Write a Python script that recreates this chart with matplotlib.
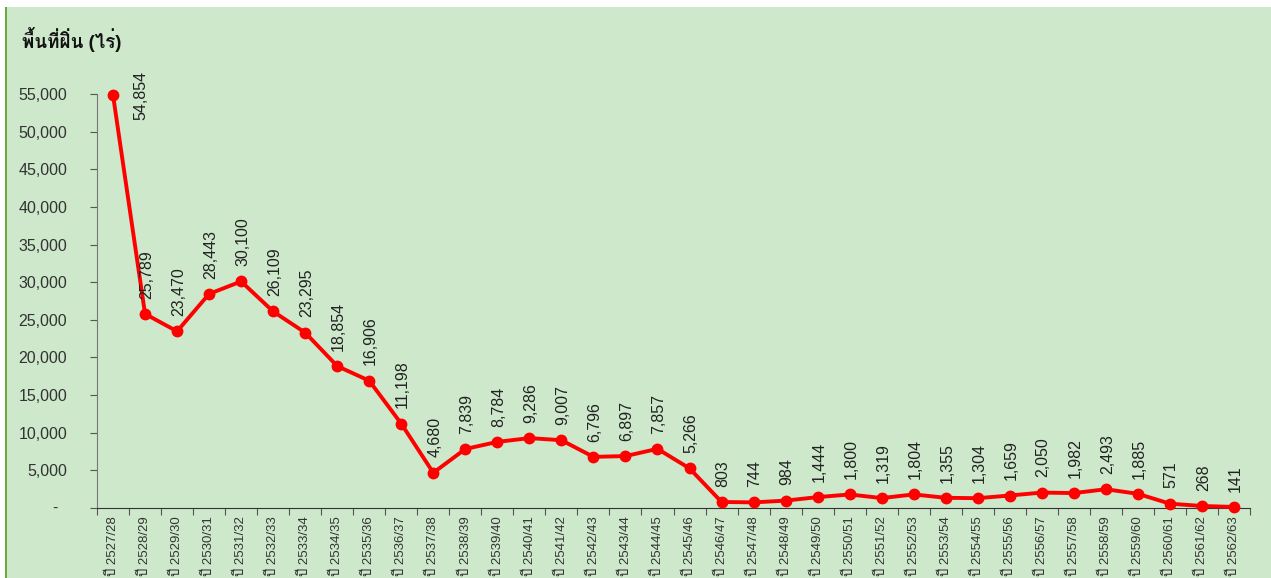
import matplotlib
matplotlib.use("Agg")
import matplotlib.pyplot as plt
import matplotlib.transforms as mtransforms
from matplotlib import font_manager
from matplotlib.ticker import FuncFormatter
from fontTools.ttLib import TTFont

# opium area per crop year
years = ["2527/28", "2528/29", "2529/30", "2530/31", "2531/32", "2532/33", "2533/34",
         "2534/35", "2535/36", "2536/37", "2537/38", "2538/39", "2539/40", "2540/41",
         "2541/42", "2542/43", "2543/44", "2544/45", "2545/46", "2546/47", "2547/48",
         "2548/49", "2549/50", "2550/51", "2551/52", "2552/53", "2553/54", "2554/55",
         "2555/56", "2556/57", "2557/58", "2558/59", "2559/60", "2560/61", "2561/62",
         "2562/63"]
area = [54854, 25789, 23470, 28443, 30100, 26109, 23295, 18854, 16906, 11198, 4680,
        7839, 8784, 9286, 9007, 6796, 6897, 7857, 5266, 803, 744, 984, 1444, 1800,
        1319, 1804, 1355, 1304, 1659, 2050, 1982, 2493, 1885, 571, 268, 141]
ylabel_text = "พื้นที่ฝิ่น (ไร่)"

# look for any installed font that has Thai glyphs
thai = []
for f in font_manager.fontManager.ttflist:
    try:
        cmap = TTFont(f.fname, fontNumber=0, lazy=True).getBestCmap()
        if cmap and 0x0E1B in cmap and f.name not in thai:
            thai.append(f.name)
    except Exception:
        pass
fams = ["Liberation Sans"] + thai + ["DejaVu Sans"]
plt.rcParams['font.family'] = fams

bg = "#cde8cb"
fig = plt.figure(figsize=(12.71, 5.78), dpi=100, facecolor="white")
fig.patches.append(plt.Rectangle((6 / 1271, 0), 1, 1 - 7 / 578, transform=fig.transFigure,
                                 facecolor=bg, edgecolor="none", zorder=-2))
fig.patches.append(plt.Rectangle((5 / 1271, 0), 2 / 1271, 1 - 7 / 578, transform=fig.transFigure,
                                 facecolor="#6aaa3a", edgecolor="none", zorder=-1))

ax = fig.add_axes([97 / 1271, 70 / 578, 1153 / 1271, 414 / 578])
ax.set_zorder(5)
ax.set_facecolor("none")
x = list(range(len(years)))
ax.plot(x, area, color="#ff0000", lw=2.8, marker="o", ms=7.5, clip_on=False, zorder=3)

for xi, v in zip(x, area):
    if xi == 0:
        ax.annotate(f"{v:,}", (xi, v), xytext=(20, 0), textcoords="offset points",
                    rotation=90, ha="center", va="center", fontsize=11.5, color="#222222")
    else:
        ax.annotate(f"{v:,}", (xi, v), xytext=(1, 11), textcoords="offset points",
                    rotation=90, ha="center", va="bottom", fontsize=11.5, color="#222222")

ax.set_xlim(-0.5, len(years) - 0.5)
ax.set_ylim(0, 55000)
ax.set_yticks(range(0, 55001, 5000))
ax.yaxis.set_major_formatter(FuncFormatter(lambda v, p: "" if v == 0 else f"{int(v):,}"))
ax.set_xticks([i - 0.5 for i in range(len(years) + 1)])
ax.set_xticklabels([])
ax.set_xticks(x, minor=True)
ax.set_xticklabels(["ปี " + y for y in years], minor=True, rotation=90, fontsize=9.5,
                   va="top", color="#333333")
ax.tick_params(axis="x", which="minor", length=0, pad=6)
ax.tick_params(axis="x", which="major", length=5, direction="out", color="#555555")
ax.tick_params(axis="y", length=5, direction="out", color="#555555", pad=16.5,
               labelsize=11.5, labelcolor="#333333")

# zero shown as a dash, set in from the numbers like the accounting format
dash_tr = ax.get_yaxis_transform() + mtransforms.ScaledTranslation(-42 / 100, 0, fig.dpi_scale_trans)
ax.text(0, 0, "-", transform=dash_tr, ha="center", va="center", fontsize=11.5, color="#333333")

for s in ["top", "right"]:
    ax.spines[s].set_visible(False)
ax.spines["left"].set_color("#777777")
ax.spines["bottom"].set_color("#333333")

fig.text(22 / 1271, 1 - 40 / 578, ylabel_text, fontsize=13.5, fontweight="bold",
         va="center", ha="left", color="#111111")

fig.savefig("out.png", dpi=100, facecolor="white")
